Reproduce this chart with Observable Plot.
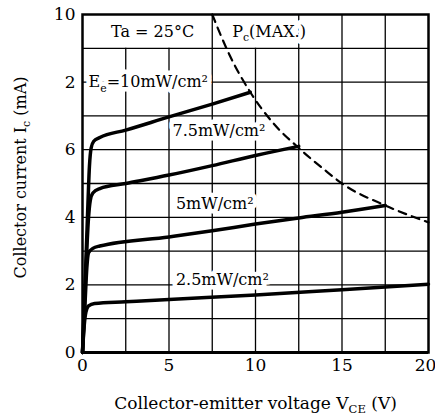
<!DOCTYPE html>
<html>
<head>
<meta charset="utf-8">
<script src="https://cdn.jsdelivr.net/npm/d3@7"></script>
<script src="https://cdn.jsdelivr.net/npm/@observablehq/plot@0.6"></script>
<style>
  html, body { margin: 0; padding: 0; background: white; }
</style>
</head>
<body>
<div id="chart"></div>
<script>
// ---- data ----
const vTicks = [0, 5, 10, 15, 20];
const iTicks = [0, 2, 4, 6, 8, 10];
const iTickLabels = ["0", "2", "4", "6", "2", "10"];

const vGrid = [2.5, 5, 7.5, 10, 12.5, 15, 17.5];
const vGridTop = [9, 9, 10, 9, 10, 10, 10];
const iGrid = [1, 2, 3, 4, 5, 6, 7, 8, 9];

const ee10V = [0, 0.15, 0.3, 0.4, 0.5, 0.65, 1.0, 2.5, 5, 7.5, 9.7];
const ee10I = [0, 2.0, 4.2, 5.5, 6.05, 6.25, 6.36, 6.58, 6.97, 7.35, 7.7];

const ee75V = [0, 0.2, 0.35, 0.45, 0.6, 1.0, 2.5, 5, 7.5, 10, 12.5];
const ee75I = [0, 2.5, 4.0, 4.5, 4.72, 4.85, 5.0, 5.25, 5.53, 5.83, 6.1];

const ee5V = [0, 0.15, 0.25, 0.35, 0.6, 1.0, 5, 7.5, 10, 12.5, 15, 17.5];
const ee5I = [0, 1.5, 2.5, 2.95, 3.08, 3.15, 3.42, 3.6, 3.8, 3.98, 4.15, 4.35];

const ee25V = [0, 0.1, 0.2, 0.35, 0.7, 2.5, 5, 10, 15, 20];
const ee25I = [0, 0.8, 1.2, 1.38, 1.45, 1.5, 1.57, 1.7, 1.86, 2.02];

const pcV = [7.5, 8.5, 9.7, 11, 12.5, 14, 15, 17.5, 20];
const pcI = [10, 8.8, 7.7, 6.8, 6.05, 5.4, 5.0, 4.35, 3.85];

const labelText = ["E_e=10mW/cm²", "7.5mW/cm²", "5mW/cm²", "2.5mW/cm²"];
const labelV = [0.35, 5.2, 5.4, 5.4];
const labelI = [8.0, 6.55, 4.4, 2.15];

const topText = ["Ta = 25°C", "P_c(MAX.)"];
const topV = [1.65, 8.65];
const topI = [9.5, 9.5];

const xTitle = "Collector-emitter voltage V_CE (V)";
const yTitle = "Collector current I_c (mA)";

// ---- build tables ----
const curves = [
  ["10", ee10V, ee10I], ["7.5", ee75V, ee75I], ["5", ee5V, ee5I], ["2.5", ee25V, ee25I]
].flatMap(([s, vs, is]) => vs.map((v, k) => ({series: s, v, i: is[k]})));
const pc = pcV.map((v, k) => ({v, i: pcI[k]}));
const vGridData = vGrid.map((v, k) => ({v, top: vGridTop[k]}));
const labels = labelText.map((t, k) => ({t, v: labelV[k], i: labelI[k]}));
const tops = topText.map((t, k) => ({t, v: topV[k], i: topI[k]}));
const tickMap = new Map(iTicks.map((d, k) => [d, iTickLabels[k]]));

const FONT = "DejaVu Serif";
const LBL = 16;

const svg = Plot.plot({
  width: 435,
  height: 415,
  marginLeft: 82,
  marginRight: 7,
  marginTop: 14,
  marginBottom: 63,
  style: {fontFamily: FONT, fontSize: "15px", background: "white", color: "black"},
  x: {domain: [0, 20]},
  y: {domain: [0, 10]},
  marks: [
    Plot.ruleY(iGrid, {stroke: "black", strokeWidth: 1.3}),
    Plot.ruleX(vGridData, {x: "v", y1: 0, y2: "top", stroke: "black", strokeWidth: 1.3}),
    // white halo under labels
    Plot.text(labels, {x: "v", y: "i", text: "t", textAnchor: "start", fontSize: LBL, stroke: "white", strokeWidth: 9, fill: "white"}),
    Plot.text(tops, {x: "v", y: "i", text: "t", textAnchor: "start", fontSize: LBL, stroke: "white", strokeWidth: 9, fill: "white"}),
    Plot.text(labels, {x: "v", y: "i", text: "t", textAnchor: "start", fontSize: LBL, fill: "black"}),
    Plot.text(tops, {x: "v", y: "i", text: "t", textAnchor: "start", fontSize: LBL, fill: "black"}),
    Plot.line(pc, {x: "v", y: "i", curve: "monotone-x", stroke: "black", strokeWidth: 2.2, strokeDasharray: "8,6"}),
    Plot.line(curves, {x: "v", y: "i", z: "series", curve: "monotone-x", stroke: "black", strokeWidth: 3.5}),
    Plot.frame({stroke: "black", strokeWidth: 2.5}),
    Plot.ruleY([0], {stroke: "black", strokeWidth: 3}),
    Plot.axisX({ticks: vTicks, tickSize: 0, tickPadding: 6, label: null, fontSize: 17, tickFormat: d => String(d)}),
    Plot.axisY({ticks: iTicks, tickSize: 0, tickPadding: 7, label: null, fontSize: 17, tickFormat: d => tickMap.get(d)}),
    Plot.text([xTitle], {frameAnchor: "bottom", dy: 56, fontSize: 17, text: d => d}),
    Plot.text([yTitle], {frameAnchor: "left", textAnchor: "middle", dx: -62, dy: -6, rotate: -90, fontSize: 16, text: d => d})
  ]
});
document.getElementById("chart").appendChild(svg);

// keep the last x tick label inside the picture
d3.select(svg).selectAll("text").filter(function() { return this.textContent === "20"; }).attr("dx", -3);

// subscripts
d3.select(svg).selectAll("text").each(function() {
  const s = this.textContent;
  if (!s.includes("_") || this.children.length) return;
  const fs = parseFloat(getComputedStyle(this).fontSize) || 15;
  const shift = fs * 0.28;
  this.textContent = "";
  const parts = s.split(/_([A-Za-z]+)/);
  let down = false;
  parts.forEach((p, k) => {
    if (!p) return;
    const ts = d3.select(this).append("tspan").text(p);
    if (k % 2 === 1) {
      ts.attr("font-size", fs * 0.68).attr("dy", shift);
      down = true;
    } else if (down) {
      ts.attr("dy", -shift);
      down = false;
    }
  });
});
</script>
</body>
</html>
